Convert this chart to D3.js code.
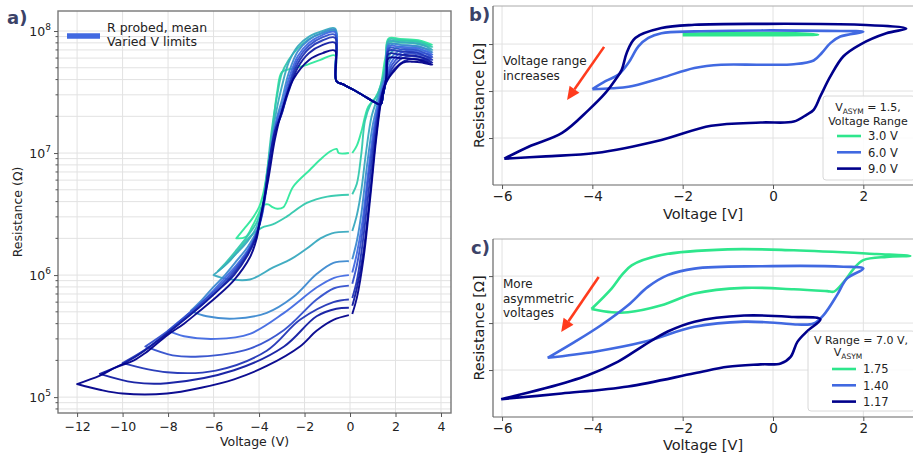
<!DOCTYPE html>
<html>
<head>
<meta charset="utf-8">
<script src="https://cdn.jsdelivr.net/npm/d3@7"></script>
<style>
body { margin: 0; background: #fff; }
text { font-family: "DejaVu Sans", sans-serif; fill: #222; }
</style>
</head>
<body>
<div id="vis"></div>
<script>
// ---------- data, panel a (R probed, mean, varied V limits) ----------
var limitsA = [-5, -5.8, -6, -7, -8, -9, -10, -11, -12];

// forward sweep from 0 V to +V max and back onto the plateau
var riseA = [
  [[0.1,1.0e7],[0.3,1.15e7],[0.5,1.5e7],[0.8,2.4e7],[1.1,2.8e7],[1.35,3.6e7],[1.55,6.0e7],[1.75,8.0e7],[2.5,8.3e7],[3.0,8.1e7],[3.62,7.7e7],[3.0,8.4e7],[2.2,8.6e7],[1.7,8.7e7]],
  [[0.1,4.6e6],[0.3,5.6e6],[0.5,1.0e7],[0.66,1.85e7],[0.9,2.5e7],[1.2,3.0e7],[1.45,4.2e7],[1.65,6.5e7],[1.85,7.8e7],[2.5,8.0e7],[3.0,7.8e7],[3.62,7.4e7],[3.0,8.2e7],[2.2,8.4e7],[1.7,8.5e7]],
  [[0.1,2.3e6],[0.3,3.1e6],[0.5,5.0e6],[0.7,1.0e7],[0.95,2.0e7],[1.2,2.8e7],[1.45,4.0e7],[1.7,6.2e7],[2.0,7.2e7],[2.5,7.6e7],[3.0,7.4e7],[3.62,7.0e7],[3.0,7.9e7],[2.2,8.1e7],[1.7,8.2e7]],
  [[0.1,1.35e6],[0.3,1.9e6],[0.5,3.2e6],[0.75,8e6],[1.0,1.7e7],[1.25,2.7e7],[1.5,4.0e7],[1.75,5.8e7],[2.1,6.8e7],[2.5,7.2e7],[3.0,7.0e7],[3.62,6.7e7],[3.0,7.5e7],[2.2,7.7e7],[1.7,7.8e7]],
  [[0.1,1.05e6],[0.3,1.5e6],[0.55,2.8e6],[0.8,7e6],[1.05,1.6e7],[1.3,2.8e7],[1.55,4.0e7],[1.8,5.5e7],[2.1,6.4e7],[2.5,6.9e7],[3.0,6.7e7],[3.62,6.4e7],[3.0,7.2e7],[2.2,7.4e7],[1.7,7.5e7]],
  [[0.1,8.5e5],[0.3,1.2e6],[0.55,2.3e6],[0.8,6e6],[1.1,1.6e7],[1.35,2.9e7],[1.6,4.0e7],[1.85,5.3e7],[2.2,6.2e7],[2.6,6.6e7],[3.0,6.4e7],[3.62,6.1e7],[3.0,6.9e7],[2.2,7.1e7],[1.7,7.2e7]],
  [[0.1,6.5e5],[0.3,9e5],[0.55,1.8e6],[0.85,5.5e6],[1.1,1.4e7],[1.35,2.8e7],[1.6,3.9e7],[1.9,5.1e7],[2.3,6.0e7],[2.7,6.2e7],[3.1,6.1e7],[3.62,5.8e7],[3.0,6.6e7],[2.2,6.8e7],[1.7,6.9e7]],
  [[0.1,5.6e5],[0.3,7.8e5],[0.6,1.6e6],[0.9,5e6],[1.15,1.4e7],[1.4,3.0e7],[1.6,3.8e7],[1.95,4.9e7],[2.4,5.7e7],[2.8,5.9e7],[3.2,5.8e7],[3.62,5.5e7],[3.0,6.2e7],[2.2,6.4e7],[1.7,6.5e7]],
  [[0.1,4.8e5],[0.3,6.5e5],[0.6,1.4e6],[0.9,4.5e6],[1.15,1.3e7],[1.4,2.9e7],[1.55,3.7e7],[1.9,4.6e7],[2.33,5.5e7],[2.8,5.6e7],[3.2,5.5e7],[3.62,5.3e7],[3.0,5.8e7],[2.2,6.0e7],[1.7,6.0e7]]
];

// shared valley on the way back from +V max
var valleyA = [[1.6,4.2e7],[1.45,3.0e7],[1.35,2.5e7],[1.1,2.6e7],[0.6,2.95e7],[0.15,3.3e7],[-0.3,3.65e7],[-0.6,3.9e7]];

// high state after the jump, down to the negative limit
var upperA = [
  [[-0.66,6.3e7],[-1.3,5.8e7],[-2.0,5.2e7],[-2.6,4.9e7],[-3.0,4.6e7],[-3.2,3.2e7],[-3.4,1.6e7],[-3.6,8e6],[-3.8,4.8e6],[-4.0,3.6e6],[-4.3,2.9e6],[-4.65,2.4e6],[-5.0,2.0e6]],
  [[-0.66,1.0e8],[-1.2,9.6e7],[-1.8,8.6e7],[-2.3,7.2e7],[-2.7,5.8e7],[-3.0,4.5e7],[-3.2,3.0e7],[-3.45,1.5e7],[-3.65,7e6],[-3.85,3.8e6],[-4.1,2.7e6],[-4.5,2.1e6],[-5.0,1.6e6],[-5.4,1.3e6],[-5.8,1.08e6]],
  [[-0.66,1.05e8],[-1.2,1.0e8],[-1.8,9.0e7],[-2.3,7.5e7],[-2.7,5.5e7],[-3.0,3.5e7],[-3.2,2.4e7],[-3.45,1.3e7],[-3.65,6.5e6],[-3.85,3.6e6],[-4.1,2.5e6],[-4.5,1.9e6],[-5.0,1.5e6],[-5.5,1.2e6],[-6.0,1.0e6]],
  [[-0.66,1.02e8],[-1.2,9.7e7],[-1.8,8.5e7],[-2.3,6.8e7],[-2.7,4.5e7],[-3.0,2.7e7],[-3.2,2.0e7],[-3.45,1.2e7],[-3.65,6e6],[-3.85,3.4e6],[-4.1,2.3e6],[-4.5,1.7e6],[-5.0,1.3e6],[-5.5,1.0e6],[-6.0,8.0e5],[-6.5,6.3e5],[-7.0,5.1e5]],
  [[-0.66,9.8e7],[-1.2,9.3e7],[-1.8,8.0e7],[-2.3,6.2e7],[-2.7,4.0e7],[-3.0,2.4e7],[-3.2,1.9e7],[-3.45,1.1e7],[-3.65,5.5e6],[-3.85,3.2e6],[-4.1,2.2e6],[-4.5,1.6e6],[-5.0,1.2e6],[-5.5,9.5e5],[-6.0,7.5e5],[-6.6,5.8e5],[-7.3,4.5e5],[-8.0,3.5e5]],
  [[-0.66,9.3e7],[-1.2,8.9e7],[-1.8,7.6e7],[-2.3,5.8e7],[-2.7,3.6e7],[-3.0,2.2e7],[-3.25,1.7e7],[-3.5,9.5e6],[-3.7,5e6],[-3.9,3e6],[-4.15,2.1e6],[-4.5,1.55e6],[-5.0,1.15e6],[-5.6,8.6e5],[-6.2,6.7e5],[-7.0,5.0e5],[-8.0,3.5e5],[-9.0,2.6e5]],
  [[-0.66,8.8e7],[-1.2,8.4e7],[-1.8,7.2e7],[-2.3,5.4e7],[-2.7,3.4e7],[-3.0,2.1e7],[-3.25,1.6e7],[-3.5,9e6],[-3.72,4.8e6],[-3.92,2.9e6],[-4.15,2.05e6],[-4.5,1.5e6],[-5.0,1.1e6],[-5.6,8.2e5],[-6.3,6.2e5],[-7.0,4.8e5],[-8.0,3.4e5],[-9.0,2.45e5],[-10.0,1.9e5]],
  [[-0.66,8.0e7],[-1.2,7.7e7],[-1.8,6.6e7],[-2.3,5.0e7],[-2.7,3.2e7],[-3.05,2.0e7],[-3.3,1.5e7],[-3.55,8.5e6],[-3.75,4.5e6],[-3.95,2.8e6],[-4.15,2.0e6],[-4.5,1.45e6],[-5.1,1.0e6],[-5.8,7.5e5],[-6.6,5.5e5],[-7.5,4.0e5],[-8.5,2.85e5],[-9.5,2.1e5],[-10.3,1.75e5],[-11.0,1.55e5]],
  [[-0.66,6.9e7],[-1.2,6.6e7],[-1.8,5.8e7],[-2.5,4.0e7],[-3.0,2.2e7],[-3.3,1.3e7],[-3.6,6e6],[-3.96,2.8e6],[-4.1,2.0e6],[-4.4,1.4e6],[-5.1,9.1e5],[-5.8,6.8e5],[-6.6,5.1e5],[-7.3,4.0e5],[-8.05,3.2e5],[-9.0,2.3e5],[-9.5,2.0e5],[-10.3,1.75e5],[-11.0,1.5e5],[-12.0,1.28e5]]
];

// low state, from the negative limit back to 0 V
var lowerA = [
  [[-5.0,2.0e6],[-4.6,2.05e6],[-4.3,2.5e6],[-4.05,3.1e6],[-3.85,3.7e6],[-3.6,3.8e6],[-3.4,3.6e6],[-3.2,3.5e6],[-2.93,3.6e6],[-2.5,5.3e6],[-1.76,7.3e6],[-1.32,8.8e6],[-0.88,1.03e7],[-0.59,1.08e7],[-0.5,1.0e7],[-0.05,1.0e7]],
  [[-5.8,1.08e6],[-5.3,1.3e6],[-4.8,1.7e6],[-4.3,2.15e6],[-3.87,2.45e6],[-3.4,2.6e6],[-2.8,3.0e6],[-1.9,3.9e6],[-1.0,4.4e6],[-0.05,4.55e6]],
  [[-6.0,1.0e6],[-5.4,9.3e5],[-4.4,9.2e5],[-3.4,1.15e6],[-2.6,1.35e6],[-1.9,1.65e6],[-1.3,2.0e6],[-0.8,2.2e6],[-0.05,2.27e6]],
  [[-7.0,5.1e5],[-6.3,4.6e5],[-5.1,4.4e5],[-3.66,4.9e5],[-2.5,6.6e5],[-1.47,1.02e6],[-0.73,1.26e6],[-0.05,1.3e6]],
  [[-8.0,3.5e5],[-7.3,3.15e5],[-5.9,3.0e5],[-4.4,3.3e5],[-2.9,4.9e5],[-1.47,7.9e5],[-0.7,9.5e5],[-0.05,1.0e6]],
  [[-9.0,2.6e5],[-7.8,2.2e5],[-6.6,2.15e5],[-4.4,2.5e5],[-2.9,3.55e5],[-1.47,6.3e5],[-0.7,7.8e5],[-0.05,8.2e5]],
  [[-10.0,1.9e5],[-8.05,1.6e5],[-5.9,1.65e5],[-3.66,2.4e5],[-2.2,4.3e5],[-0.73,6.0e5],[-0.05,6.3e5]],
  [[-11.0,1.55e5],[-9.5,1.32e5],[-8.05,1.3e5],[-5.1,1.66e5],[-2.9,2.6e5],[-1.47,4.6e5],[-0.6,5.3e5],[-0.05,5.4e5]],
  [[-12.0,1.28e5],[-11.0,1.15e5],[-10.0,1.07e5],[-8.05,1.07e5],[-6.5,1.2e5],[-5.1,1.4e5],[-3.66,1.8e5],[-2.2,2.6e5],[-1.47,3.5e5],[-0.73,4.3e5],[-0.05,4.7e5]]
];

var xTicksA = [-12, -10, -8, -6, -4, -2, 0, 2, 4];
var yTicksA = [1e5, 1e6, 1e7, 1e8];

// ---------- data, panels b and c (arbitrary log-R units) ----------
var rangeLabels = ["3.0 V", "6.0 V", "9.0 V"];
var loopB30 = [[-2.0,3.19],[-1.0,3.19],[0.0,3.19],[1.0,3.2],[0.5,3.23],[-1.0,3.23],[-2.0,3.22]];
var loopB60 = [[-4.0,2.04],[-3.57,2.06],[-3.2,2.09],[-2.47,2.28],[-1.74,2.49],[-1.15,2.56],[-0.27,2.56],[0.46,2.57],[0.9,2.65],[1.08,2.81],[1.27,3.02],[1.49,3.16],[2.0,3.26],
               [1.19,3.28],[-0.27,3.29],[-1.74,3.27],[-2.47,3.23],[-2.76,3.13],[-2.98,2.95],[-3.2,2.6],[-3.42,2.35],[-3.71,2.21],[-4.0,2.04]];
var loopB90 = [[-5.95,0.56],[-5.03,0.61],[-3.93,0.68],[-2.47,0.96],[-1.37,1.26],[-0.27,1.33],[0.46,1.35],[0.75,1.5],[0.9,1.6],[1.05,1.89],[1.27,2.31],[1.56,2.74],[1.93,2.99],[2.51,3.23],[2.95,3.33],
               [1.93,3.41],[-0.27,3.43],[-1.74,3.41],[-2.47,3.34],[-3.05,3.13],[-3.24,2.81],[-3.35,2.45],[-3.49,2.24],[-3.71,1.96],[-4.08,1.6],[-4.67,1.11],[-5.4,0.82],[-5.95,0.56]];

var asymLabels = ["1.75", "1.40", "1.17"];
var loopC175 = [[-4.02,2.30],[-3.57,2.23],[-3.21,2.23],[-2.47,2.38],[-1.74,2.63],[-0.64,2.75],[0.46,2.72],[1.2,2.68],[1.35,2.67],[1.57,2.88],[1.79,3.16],[2.0,3.34],[2.52,3.41],[3.04,3.43],
                [2.29,3.47],[0.46,3.55],[-1.0,3.57],[-2.47,3.45],[-3.13,3.23],[-3.35,3.02],[-3.57,2.74],[-4.02,2.30]];
var loopC140 = [[-4.99,1.26],[-3.95,1.39],[-2.85,1.60],[-1.74,1.92],[-0.64,2.03],[0.1,2.0],[0.54,1.97],[0.9,1.99],[1.12,2.17],[1.42,2.6],[1.64,2.95],[2.0,3.16],
                [1.56,3.2],[-0.27,3.21],[-1.74,3.16],[-2.33,3.02],[-2.77,2.77],[-3.21,2.38],[-3.8,1.96],[-4.39,1.6],[-4.99,1.26]];
var loopC117 = [[-6.02,0.38],[-4.68,0.50],[-3.21,0.65],[-1.74,0.93],[-1.0,1.07],[-0.27,1.12],[0.17,1.14],[0.39,1.28],[0.54,1.60],[0.76,1.83],[1.05,2.08],
                [0.46,2.13],[-0.64,2.16],[-1.74,2.03],[-2.33,1.82],[-2.85,1.53],[-3.43,1.18],[-4.1,0.89],[-5.05,0.61],[-6.02,0.38]];

var xTicksBC = [-6, -4, -2, 0, 2];
var yTicksBC = [1, 2, 3];

var loopColors = ["#2ee68c", "#4169e1", "#00008b"];
var arrowRed = "#ff3b1d";

// ---------- svg ----------
var width = 913, height = 457;
var svg = d3.select("#vis").append("svg")
    .attr("width", width).attr("height", height);

var minus = function(d) { return d < 0 ? "\u2212" + (-d) : "" + d; };
var smooth = d3.curveCatmullRom.alpha(0.5);
var gridCol = "#e2e2e2";

// ================= panel a =================
var A = {left: 58, right: 451, top: 11, bottom: 413};
var xA = d3.scaleLinear().domain([-12.84, 4.44]).range([A.left, A.right]);
var yA = d3.scaleLog().domain([7.41e4, 1.459e8]).range([A.bottom, A.top]);
var colA = d3.scaleLinear().domain([0, 0.5, 1]).range(["#2ee89c", "#4169e1", "#00008b"]);

var gA = svg.append("g");
svg.append("clipPath").attr("id", "clipA").append("rect")
    .attr("x", A.left).attr("y", A.top).attr("width", A.right - A.left).attr("height", A.bottom - A.top);

var minorA = yA.ticks().filter(function(d) { return yTicksA.indexOf(d) < 0; });

gA.selectAll(".hgrid").data(yA.ticks()).join("line")
    .attr("x1", A.left).attr("x2", A.right)
    .attr("y1", function(d) { return yA(d); }).attr("y2", function(d) { return yA(d); })
    .attr("stroke", gridCol).attr("stroke-width", 1);
gA.selectAll(".vgrid").data(xTicksA).join("line")
    .attr("y1", A.top).attr("y2", A.bottom)
    .attr("x1", function(d) { return xA(d); }).attr("x2", function(d) { return xA(d); })
    .attr("stroke", gridCol).attr("stroke-width", 1);

var lineA = d3.line().x(function(d) { return xA(d[0]); }).y(function(d) { return yA(d[1]); }).curve(smooth);

var sweeps = limitsA.map(function(v, i) {
  return riseA[i].concat(valleyA, upperA[i], lowerA[i]);
});

gA.append("g").attr("clip-path", "url(#clipA)")
  .selectAll("path").data(sweeps).join("path")
    .attr("d", lineA)
    .attr("fill", "none")
    .attr("stroke", function(d, i) { return colA(i / (limitsA.length - 1)); })
    .attr("stroke-width", 1.9)
    .attr("stroke-linejoin", "round")
    .attr("opacity", 0.95);

gA.append("rect")
    .attr("x", A.left).attr("y", A.top).attr("width", A.right - A.left).attr("height", A.bottom - A.top)
    .attr("fill", "none").attr("stroke", "#777").attr("stroke-width", 1.4);

var axAx = gA.append("g").attr("transform", "translate(0," + A.bottom + ")")
    .call(d3.axisBottom(xA).tickValues(xTicksA).tickSize(4).tickSizeOuter(0).tickFormat(minus));
axAx.select(".domain").remove();
axAx.selectAll("text").attr("font-size", 12.5).attr("dy", "0.9em").attr("fill", "#222")
    .style("font-family", "DejaVu Sans");
axAx.selectAll("line").attr("stroke", "#555");

var axAy = gA.append("g").attr("transform", "translate(" + A.left + ",0)")
    .call(d3.axisLeft(yA).tickValues(yTicksA).tickSize(4).tickSizeOuter(0).tickFormat(""));
axAy.select(".domain").remove();
axAy.selectAll("line").attr("stroke", "#555");
gA.selectAll(".minorA").data(minorA).join("line")
    .attr("x1", A.left - 2.5).attr("x2", A.left)
    .attr("y1", function(d) { return yA(d); }).attr("y2", function(d) { return yA(d); })
    .attr("stroke", "#555");

gA.selectAll(".ylabA").data(yTicksA).join("text")
    .attr("x", A.left - 7).attr("y", function(d) { return yA(d) + 5; })
    .attr("text-anchor", "end").attr("font-size", 12.5)
    .each(function(d) {
      var t = d3.select(this);
      t.append("tspan").text("10");
      t.append("tspan").attr("dy", -6).attr("font-size", 9).text(Math.round(Math.log10(d)));
    });

gA.append("text").attr("x", (A.left + A.right) / 2).attr("y", 446)
    .attr("text-anchor", "middle").attr("font-size", 12.5).text("Voltage (V)");
gA.append("text").attr("transform", "translate(22," + ((A.top + A.bottom) / 2) + ") rotate(-90)")
    .attr("text-anchor", "middle").attr("font-size", 12.5).text("Resistance (\u03a9)");

// legend a
gA.append("line").attr("x1", A.left + 9).attr("x2", A.left + 42).attr("y1", 36).attr("y2", 36)
    .attr("stroke", "#4169e1").attr("stroke-width", 5.5);
gA.append("text").attr("x", A.left + 49).attr("y", 32).attr("font-size", 12.5).text("R probed, mean");
gA.append("text").attr("x", A.left + 49).attr("y", 46).attr("font-size", 12.5).text("Varied V limits");

// ================= panels b and c =================
function loopPanel(P, loops, labels, legendTitle, noteLines, arrowFrom, arrowTo, tag) {
  var x = d3.scaleLinear().domain([-6.2, 3.1]).range([P.left, P.right]);
  var y = d3.scaleLinear().domain(P.ydom).range([P.bottom, P.top]);
  var g = svg.append("g");
  svg.append("clipPath").attr("id", "clip" + tag).append("rect")
      .attr("x", P.left).attr("y", P.top).attr("width", P.right - P.left).attr("height", P.bottom - P.top);

  g.selectAll(".vg").data(xTicksBC).join("line")
      .attr("x1", function(d) { return x(d); }).attr("x2", function(d) { return x(d); })
      .attr("y1", P.top).attr("y2", P.bottom).attr("stroke", gridCol);
  g.selectAll(".hg").data(yTicksBC).join("line")
      .attr("y1", function(d) { return y(d); }).attr("y2", function(d) { return y(d); })
      .attr("x1", P.left).attr("x2", P.right).attr("stroke", gridCol);

  var line = d3.line().x(function(d) { return x(d[0]); }).y(function(d) { return y(d[1]); }).curve(smooth);
  g.append("g").attr("clip-path", "url(#clip" + tag + ")")
    .selectAll("path").data(loops).join("path")
      .attr("d", line).attr("fill", "none")
      .attr("stroke", function(d, i) { return loopColors[i]; })
      .attr("stroke-width", 2.6).attr("stroke-linejoin", "round");

  // frame
  g.append("line").attr("x1", P.left).attr("x2", P.right).attr("y1", P.top).attr("y2", P.top).attr("stroke", "#aaa");
  g.append("line").attr("x1", P.left).attr("x2", P.right).attr("y1", P.bottom).attr("y2", P.bottom).attr("stroke", "#666").attr("stroke-width", 1.2);
  g.append("line").attr("x1", P.left).attr("x2", P.left).attr("y1", P.top).attr("y2", P.bottom).attr("stroke", "#666").attr("stroke-width", 1.2);

  var ax = g.append("g").attr("transform", "translate(0," + P.bottom + ")")
      .call(d3.axisBottom(x).tickValues(xTicksBC).tickSize(4).tickPadding(2).tickSizeOuter(0).tickFormat(minus));
  ax.select(".domain").remove();
  ax.selectAll("line").attr("stroke", "#555");
  ax.selectAll("text").attr("font-size", 13.5).attr("dy", "0.72em").attr("fill", "#222")
      .style("font-family", "DejaVu Sans");
  var ay = g.append("g").attr("transform", "translate(" + P.left + ",0)")
      .call(d3.axisLeft(y).tickValues(yTicksBC).tickSize(4).tickSizeOuter(0).tickFormat(""));
  ay.select(".domain").remove();
  ay.selectAll("line").attr("stroke", "#555");

  g.append("text").attr("x", (P.left + P.right) / 2).attr("y", P.xlabY)
      .attr("text-anchor", "middle").attr("font-size", 14.5).text("Voltage [V]");
  g.append("text").attr("transform", "translate(" + (P.left - 9) + "," + ((P.top + P.bottom) / 2) + ") rotate(-90)")
      .attr("text-anchor", "middle").attr("font-size", 14.5).text("Resistance [\u03a9]");

  // annotation and arrow
  noteLines.forEach(function(s, i) {
    g.append("text").attr("x", P.left + 10).attr("y", P.noteY + i * 14.5)
        .attr("font-size", 12).text(s);
  });
  var x1 = x(arrowFrom[0]), y1 = y(arrowFrom[1]), x2 = x(arrowTo[0]), y2 = y(arrowTo[1]);
  var ang = Math.atan2(y2 - y1, x2 - x1), hl = 13, hw = 6;
  var bx = x2 - hl * Math.cos(ang), by = y2 - hl * Math.sin(ang);
  g.append("line").attr("x1", x1).attr("y1", y1).attr("x2", bx).attr("y2", by)
      .attr("stroke", arrowRed).attr("stroke-width", 2.6);
  g.append("path").attr("fill", arrowRed)
      .attr("d", "M" + x2 + "," + y2 +
        "L" + (bx + hw * Math.sin(ang)) + "," + (by - hw * Math.cos(ang)) +
        "L" + (bx - hw * Math.sin(ang)) + "," + (by + hw * Math.cos(ang)) + "Z");

  // legend
  var L = P.legend;
  var lg = g.append("g");
  lg.append("rect").attr("x", L.x).attr("y", L.y).attr("width", L.w).attr("height", L.h).attr("rx", 3)
      .attr("fill", "#fff").attr("fill-opacity", 0.85).attr("stroke", "#d8d8d8");
  legendTitle(lg, L);
  labels.forEach(function(s, i) {
    var yy = L.y + L.first + i * 16.3;
    lg.append("line").attr("x1", L.lx).attr("x2", L.lx + 24).attr("y1", yy).attr("y2", yy)
        .attr("stroke", loopColors[i]).attr("stroke-width", 2.6);
    lg.append("text").attr("x", L.lx + 31).attr("y", yy + 4.2).attr("font-size", 11.5).text(s);
  });
}

function asymSpan(t, after) {
  t.append("tspan").text("V");
  t.append("tspan").attr("font-size", 7.5).attr("dy", 2.5).text("ASYM");
  if (after) t.append("tspan").attr("dy", -2.5).text(after);
}

loopPanel({left: 493, right: 913, top: 6, bottom: 185, ydom: [0, 3.81], xlabY: 219, noteY: 65,
           legend: {x: 823, y: 96, w: 92, h: 84, lx: 837, first: 40}},
  [loopB30, loopB60, loopB90], rangeLabels,
  function(lg, L) {
    var t = lg.append("text").attr("x", L.x + 45).attr("y", L.y + 15).attr("text-anchor", "middle").attr("font-size", 11);
    asymSpan(t, " = 1.5,");
    lg.append("text").attr("x", L.x + 45).attr("y", L.y + 29).attr("text-anchor", "middle").attr("font-size", 11).text("Voltage Range");
  },
  ["Voltage range", "increases"], [-3.74, 2.94], [-4.56, 1.81], "B");

loopPanel({left: 493, right: 913, top: 239, bottom: 417, ydom: [0, 3.79], xlabY: 450, noteY: 288,
           legend: {x: 808, y: 331, w: 107, h: 80, lx: 832, first: 38}},
  [loopC175, loopC140, loopC117], asymLabels,
  function(lg, L) {
    lg.append("text").attr("x", L.x + 53).attr("y", L.y + 13).attr("text-anchor", "middle").attr("font-size", 11).text("V Range = 7.0 V,");
    var t = lg.append("text").attr("x", L.x + 40).attr("y", L.y + 25).attr("text-anchor", "middle").attr("font-size", 11);
    asymSpan(t, "");
  },
  ["More", "asymmetric", "voltages"], [-3.86, 2.98], [-4.69, 1.81], "C");

// panel letters
var letters = [["a)", 7, 24], ["b)", 469, 21], ["c)", 471, 254]];
svg.selectAll(".letter").data(letters).join("text")
    .attr("x", function(d) { return d[1]; }).attr("y", function(d) { return d[2]; })
    .attr("font-size", 18).attr("font-weight", "bold")
    .style("fill", "#3b4268")
    .text(function(d) { return d[0]; });
</script>
</body>
</html>
